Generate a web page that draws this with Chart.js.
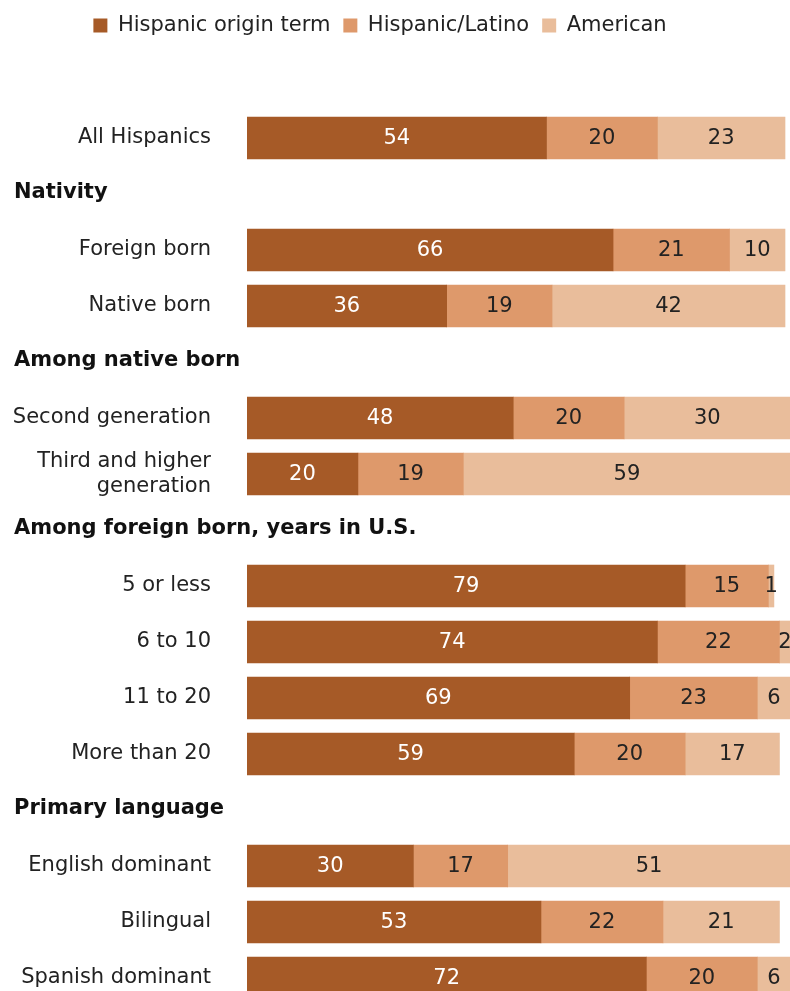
<!DOCTYPE html>
<html>
<head>
<meta charset="utf-8">
<script src="https://cdn.jsdelivr.net/npm/chart.js@4/dist/chart.umd.min.js"></script>
<style>
  html, body { margin: 0; padding: 0; background: #fff; overflow: hidden; }
  #wrap { position: relative; width: 790px; height: 1006px; }
</style>
</head>
<body>
<div id="wrap"><canvas id="chart"></canvas></div>
<script>
// Row labels; empty strings are section header rows
const rowLabels = [
  "All Hispanics", "",
  "Foreign born", "Native born", "",
  "Second generation", ["Third and higher", "generation"], "",
  "5 or less", "6 to 10", "11 to 20", "More than 20", "",
  "English dominant", "Bilingual", "Spanish dominant"
];
// Section headers, keyed by row index
const headerRows = [1, 4, 7, 12];
const headerTexts = ["Nativity", "Among native born", "Among foreign born, years in U.S.", "Primary language"];

const seriesNames = ["Hispanic origin term", "Hispanic/Latino", "American"];
const originTerm  = [54, null, 66, 36, null, 48, 20, null, 79, 74, 69, 59, null, 30, 53, 72];
const hispLatino  = [20, null, 21, 19, null, 20, 19, null, 15, 22, 23, 20, null, 17, 22, 20];
const american    = [23, null, 10, 42, null, 30, 59, null, 1, 2, 6, 17, null, 51, 21, 6];

const colors = ["#a65a27", "#de996b", "#e9bd9b"];
const labelColors = ["#ffffff", "#222222", "#222222"];
const FONT = "'DejaVu Sans', Verdana, sans-serif";

// draws the numbers inside each bar segment
const valueLabels = {
  id: "valueLabels",
  afterDatasetsDraw(chart) {
    const ctx = chart.ctx;
    ctx.save();
    ctx.font = "21px " + FONT;
    ctx.textAlign = "center";
    ctx.textBaseline = "middle";
    chart.data.datasets.forEach((ds, i) => {
      chart.getDatasetMeta(i).data.forEach((bar, j) => {
        const v = ds.data[j];
        if (v == null) return;
        ctx.fillStyle = labelColors[i];
        ctx.fillText(String(v), (bar.base + bar.x) / 2, bar.y + 1);
      });
    });
    ctx.restore();
  }
};

// bold section headers at the left edge
const sectionHeaders = {
  id: "sectionHeaders",
  afterDraw(chart) {
    const ctx = chart.ctx;
    const y = chart.scales.y;
    ctx.save();
    ctx.font = "bold 21px " + FONT;
    ctx.fillStyle = "#111111";
    ctx.textAlign = "left";
    ctx.textBaseline = "middle";
    headerRows.forEach((row, k) => {
      ctx.fillText(headerTexts[k], 14, y.getPixelForValue(row) - 1);
    });
    ctx.restore();
  }
};

// nudge the legend a bit left of centre
const legendShift = {
  id: "legendShift",
  afterLayout(chart) {
    chart.legend.left = -30;
  }
};

new Chart(document.getElementById("chart"), {
  type: "bar",
  data: {
    labels: rowLabels,
    datasets: seriesNames.map((name, i) => ({
      label: name,
      data: [originTerm, hispLatino, american][i],
      backgroundColor: colors[i],
      borderWidth: 0,
      barThickness: 42
    }))
  },
  options: {
    indexAxis: "y",
    responsive: true,
    maintainAspectRatio: false,
    animation: false,
    layout: { padding: { top: 2 } },
    plugins: {
      legend: {
        position: "top",
        labels: {
          font: { family: FONT, size: 21 },
          color: "#222222",
          boxWidth: 14,
          boxHeight: 14,
          padding: 13
        }
      },
      tooltip: { enabled: false }
    },
    scales: {
      x: {
        stacked: true,
        position: "top",
        min: 0,
        max: 97.9,
        grid: { display: false, drawTicks: false },
        border: { display: false },
        ticks: { display: false },
        afterFit(s) { s.height = 108 - s.chart.legend.height; }
      },
      y: {
        stacked: true,
        grid: { display: false, drawTicks: false },
        border: { display: false },
        ticks: {
          font: { family: FONT, size: 21 },
          color: "#222222",
          padding: 36,
          autoSkip: false
        },
        afterFit(s) {
          s.width = 247;
          s.paddingTop = 0;
          s.paddingBottom = 0;
        }
      }
    }
  },
  plugins: [valueLabels, sectionHeaders, legendShift]
});
</script>
</body>
</html>
